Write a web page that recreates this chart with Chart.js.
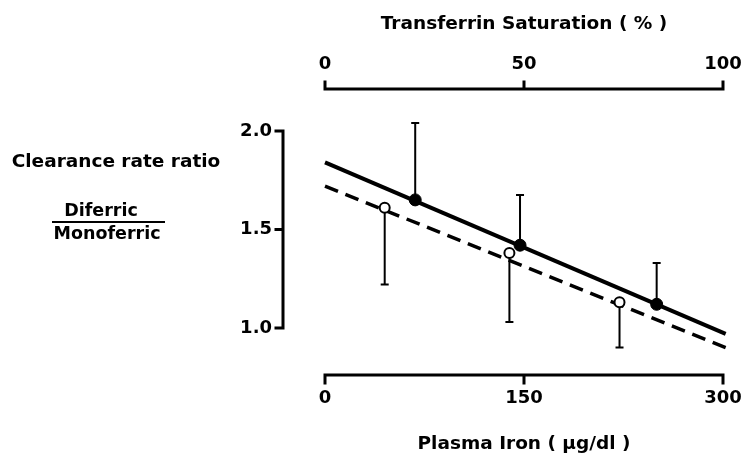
<!DOCTYPE html>
<html lang="en">
<head>
  <meta charset="UTF-8">
  <title>Clearance rate ratio vs plasma iron</title>
  <script src="https://cdn.jsdelivr.net/npm/chart.js"></script>
  <style>
    html, body { margin: 0; padding: 0; background: #fff; }
    #wrap { width: 744px; height: 455px; position: relative; }
  </style>
</head>
<body>
  <div id="wrap"><canvas id="ironChart"></canvas></div>

  <script>
    // tick labels
    const ironTicks = [0, 150, 300];
    const satTicks = [0, 50, 100];
    const ratioTicks = [1.0, 1.5, 2.0];

    // filled circles (upper error bar only)
    const filledX = [68, 147, 250];
    const filledY = [1.65, 1.42, 1.12];
    const filledHigh = [2.04, 1.675, 1.33];

    // open circles (lower error bar only)
    const openX = [45, 139, 222];
    const openY = [1.61, 1.38, 1.13];
    const openLow = [1.22, 1.03, 0.90];

    // regression lines
    const fitX = [0, 302];
    const solidY = [1.84, 0.97];
    const dashedY = [1.72, 0.90];

    const FONT = "'DejaVu Sans', 'Liberation Sans', sans-serif";
    const pts = (xs, ys) => xs.map((x, i) => ({ x: x, y: ys[i] }));

    // error bars, axis brackets and the left-hand label
    const decor = {
      id: 'decor',
      beforeDatasetsDraw(chart) {
        const { ctx, scales: { x, y } } = chart;
        ctx.save();
        ctx.strokeStyle = '#000';
        ctx.lineWidth = 2;
        const bar = (xv, y0, y1) => {
          const px = x.getPixelForValue(xv);
          const a = y.getPixelForValue(y0), b = y.getPixelForValue(y1);
          ctx.beginPath();
          ctx.moveTo(px, a); ctx.lineTo(px, b);
          ctx.moveTo(px - 4, b); ctx.lineTo(px + 4, b);
          ctx.stroke();
        };
        filledX.forEach((v, i) => bar(v, filledY[i], filledHigh[i]));
        openX.forEach((v, i) => bar(v, openY[i], openLow[i]));
        ctx.restore();
      },
      afterDraw(chart) {
        const { ctx, chartArea, scales: { x, x2, y } } = chart;
        ctx.save();
        ctx.strokeStyle = '#000';
        ctx.lineWidth = 3;
        ctx.lineCap = 'square';

        // bottom axis
        let yb = chartArea.bottom;
        ctx.beginPath();
        ctx.moveTo(x.getPixelForValue(0), yb);
        ctx.lineTo(x.getPixelForValue(300), yb);
        ironTicks.forEach(v => {
          const px = x.getPixelForValue(v);
          ctx.moveTo(px, yb); ctx.lineTo(px, yb + 8);
        });
        ctx.stroke();

        // top axis
        let yt = chartArea.top + 1;
        ctx.beginPath();
        ctx.moveTo(x2.getPixelForValue(0), yt);
        ctx.lineTo(x2.getPixelForValue(100), yt);
        satTicks.forEach(v => {
          const px = x2.getPixelForValue(v);
          ctx.moveTo(px, yt); ctx.lineTo(px, yt - 7);
        });
        ctx.stroke();

        // left axis bracket
        const xl = chartArea.left - 42;
        ctx.beginPath();
        ctx.moveTo(xl, y.getPixelForValue(1.0));
        ctx.lineTo(xl, y.getPixelForValue(2.0));
        ratioTicks.forEach(v => {
          const py = y.getPixelForValue(v);
          ctx.moveTo(xl, py); ctx.lineTo(xl - 7, py);
        });
        ctx.stroke();

        // y label as a fraction
        ctx.fillStyle = '#000';
        ctx.textAlign = 'center';
        ctx.textBaseline = 'middle';
        ctx.font = 'bold 18.5px ' + FONT;
        ctx.fillText('Clearance rate ratio', 116, 162);
        ctx.font = 'bold 17.5px ' + FONT;
        ctx.fillText('Diferric', 101, 211);
        ctx.fillText('Monoferric', 107, 234);
        ctx.lineWidth = 2;
        ctx.lineCap = 'butt';
        ctx.beginPath();
        ctx.moveTo(52, 222); ctx.lineTo(165, 222);
        ctx.stroke();
        ctx.restore();
      }
    };

    const tickFont = { family: FONT, size: 18, weight: 'bold' };
    const titleFont = { family: FONT, size: 18.5, weight: 'bold' };
    const noGrid = { display: false, drawTicks: false };
    const noSidePad = s => { s.paddingLeft = 0; s.paddingRight = 0; };

    new Chart(document.getElementById('ironChart'), {
      type: 'scatter',
      data: {
        datasets: [
          {
            label: 'Diferric',
            data: pts(filledX, filledY),
            pointRadius: 6,
            pointBackgroundColor: '#000',
            pointBorderColor: '#000',
            pointBorderWidth: 1
          },
          {
            label: 'Monoferric',
            data: pts(openX, openY),
            pointRadius: 5,
            pointBackgroundColor: '#fff',
            pointBorderColor: '#000',
            pointBorderWidth: 2
          },
          {
            type: 'line',
            label: 'Diferric fit',
            data: pts(fitX, solidY),
            borderColor: '#000',
            borderWidth: 4,
            pointRadius: 0,
            clip: false
          },
          {
            type: 'line',
            label: 'Monoferric fit',
            data: pts(fitX, dashedY),
            borderColor: '#000',
            borderWidth: 3.5,
            borderDash: [14, 8],
            pointRadius: 0,
            clip: false
          }
        ]
      },
      plugins: [decor],
      options: {
        responsive: true,
        maintainAspectRatio: false,
        animation: false,
        layout: { padding: { left: 0, right: 21, top: 0, bottom: 0 } },
        plugins: { legend: { display: false }, tooltip: { enabled: false } },
        scales: {
          x: {
            type: 'linear',
            position: 'bottom',
            min: 0,
            max: 300,
            afterBuildTicks: s => { s.ticks = ironTicks.map(v => ({ value: v })); },
            afterFit: s => { s.height = 80; noSidePad(s); },
            grid: noGrid,
            border: { display: false },
            ticks: { font: tickFont, color: '#000', padding: 13, maxRotation: 0, autoSkip: false },
            title: { display: true, text: 'Plasma Iron ( µg/dl )', font: titleFont, color: '#000', padding: { top: 0, bottom: 0 } }
          },
          x2: {
            type: 'linear',
            position: 'top',
            min: 0,
            max: 100,
            afterBuildTicks: s => { s.ticks = satTicks.map(v => ({ value: v })); },
            afterFit: s => { s.height = 88; noSidePad(s); },
            grid: noGrid,
            border: { display: false },
            ticks: { font: tickFont, color: '#000', padding: 13, maxRotation: 0, autoSkip: false },
            title: { display: true, text: 'Transferrin Saturation ( % )', font: titleFont, color: '#000', padding: { top: 13, bottom: 0 } }
          },
          y: {
            min: 0.761,
            max: 2.218,
            afterBuildTicks: s => { s.ticks = ratioTicks.map(v => ({ value: v })); },
            afterFit: s => { s.width = 325; s.paddingTop = 0; s.paddingBottom = 0; },
            grid: noGrid,
            border: { display: false },
            ticks: { font: tickFont, color: '#000', padding: 53, callback: v => v.toFixed(1) }
          }
        }
      }
    });
  </script>
</body>
</html>
